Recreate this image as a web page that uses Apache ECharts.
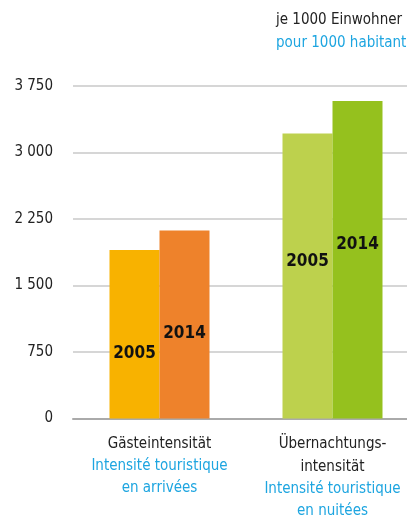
<!DOCTYPE html>
<html>
<head>
<meta charset="utf-8">
<script src="https://cdn.jsdelivr.net/npm/echarts@6/dist/echarts.min.js"></script>
<style>
html, body { margin: 0; padding: 0; overflow: hidden; background: #fff; }
#chart { width: 420px; height: 519px; }
</style>
</head>
<body>
<div id="chart"></div>
<script>
// Daten
const categoriesDe = ['Gästeintensität', 'Übernachtungs-\nintensität']
const categoriesFr = ['Intensité touristique\nen arrivées', 'Intensité touristique\nen nuitées']
const years = ['2005', '2014']
const values2005 = [1900, 3215]
const values2014 = [2120, 3580]
const colors2005 = ['#F8B200', '#BDD14D']
const colors2014 = ['#EE822B', '#95C11E']
const labelOffsets2005 = [19, -14]
const labelOffsets2014 = [9, -15]

const font = '"DejaVu Sans Condensed", "Liberation Sans Narrow", sans-serif'
const blue = '#1DA5E0'

function fmt (v) {
  const s = String(v)
  return s.length > 3 ? s.slice(0, s.length - 3) + ' ' + s.slice(-3) : s
}

function buildData (values, colors, offsets) {
  return values.map((v, i) => ({
    value: v,
    itemStyle: { color: colors[i] },
    label: { offset: [0, offsets[i]] }
  }))
}

const barLabel = {
  show: true,
  position: 'inside',
  color: '#111',
  fontFamily: font,
  fontWeight: 'bold',
  fontSize: 17
}

const chart = echarts.init(document.getElementById('chart'))
chart.setOption({
  animation: false,
  backgroundColor: '#fff',
  title: {
    left: 276,
    top: 9,
    padding: 0,
    text: '{a|je 1000 Einwohner}\n{b|pour 1000 habitants}',
    textStyle: {
      fontWeight: 'normal',
      rich: {
        a: { fontFamily: font, fontSize: 15, fontWeight: 'normal', color: '#222', lineHeight: 23 },
        b: { fontFamily: font, fontSize: 15, fontWeight: 'normal', color: blue, lineHeight: 23 }
      }
    }
  },
  grid: {
    left: 73,
    right: 1,
    top: 86,
    bottom: 99,
    containLabel: false
  },
  xAxis: {
    type: 'category',
    data: categoriesDe.map((c, i) => i),
    axisLine: { lineStyle: { color: '#aaaaaa', width: 2 } },
    axisTick: { show: false },
    axisLabel: {
      margin: 14,
      formatter: (v, i) => {
        const de = categoriesDe[i].split('\n').map(s => '{a|' + s + '}').join('\n')
        const fr = categoriesFr[i].split('\n').map(s => '{b|' + s + '}').join('\n')
        return de + '\n' + fr
      },
      rich: {
        a: { fontFamily: font, fontSize: 15, color: '#222', lineHeight: 23 },
        b: { fontFamily: font, fontSize: 15, color: blue, lineHeight: 22 }
      }
    }
  },
  yAxis: {
    type: 'value',
    min: 0,
    max: 3750,
    interval: 750,
    axisLine: { show: false },
    axisTick: { show: false },
    splitLine: { lineStyle: { color: '#c8c8c8', width: 1.5 } },
    axisLabel: {
      margin: 20,
      color: '#222',
      fontFamily: font,
      fontSize: 15,
      formatter: fmt
    }
  },
  series: [{
    name: years[0],
    type: 'bar',
    barWidth: 50,
    barGap: 0,
    label: Object.assign({}, barLabel, { formatter: years[0] }),
    data: buildData(values2005, colors2005, labelOffsets2005)
  }, {
    name: years[1],
    type: 'bar',
    barWidth: 50,
    barGap: 0,
    label: Object.assign({}, barLabel, { formatter: years[1] }),
    data: buildData(values2014, colors2014, labelOffsets2014)
  }]
})
</script>
</body>
</html>
